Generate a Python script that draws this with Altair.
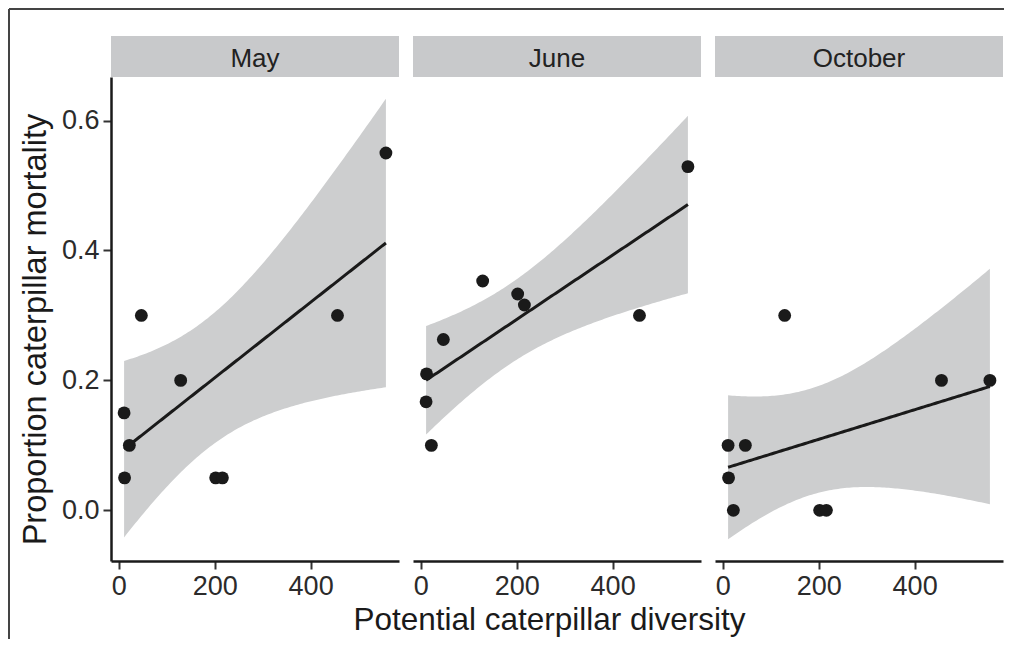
import altair as alt
import pandas as pd
import numpy as np

# ---- data ----
months = ["May", "June", "October"]
diversity = [11, 12, 22, 47, 129, 202, 216, 456, 557]
mortality_may = [0.15, 0.05, 0.10, 0.30, 0.20, 0.05, 0.05, 0.30, 0.55]
mortality_june = [0.167, 0.21, 0.10, 0.263, 0.353, 0.333, 0.316, 0.30, 0.529]
mortality_october = [0.10, 0.05, 0.00, 0.10, 0.30, 0.00, 0.00, 0.20, 0.20]
x_ticks = [0, 200, 400]
y_ticks = [0.0, 0.2, 0.4, 0.6]

FONT = "Liberation Sans"
W, H = 288, 484
T975_DF7 = 2.364624  # Student t quantile used by a 95% linear-model band


def lm_band(xs, ys):
    """Linear fit with 95% confidence band (as ggplot's geom_smooth(method='lm'))."""
    x = np.asarray(xs, float)
    y = np.asarray(ys, float)
    n = len(x)
    mx, my = x.mean(), y.mean()
    sxx = ((x - mx) ** 2).sum()
    b = ((x - mx) * (y - my)).sum() / sxx
    a = my - b * mx
    s = np.sqrt(((y - (a + b * x)) ** 2).sum() / (n - 2))
    g = np.linspace(x.min(), x.max(), 120)
    fit = a + b * g
    se = s * np.sqrt(1.0 / n + (g - mx) ** 2 / sxx)
    return pd.DataFrame({"x": g, "fit": fit, "lo": fit - T975_DF7 * se, "hi": fit + T975_DF7 * se})


xscale = alt.Scale(domain=[-16.3, 584.3], nice=False, zero=False)
yscale = alt.Scale(domain=[-0.078, 0.667], nice=False, zero=False)


def panel(i, month, ys):
    pts = pd.DataFrame({"x": diversity, "y": ys})
    band = lm_band(diversity, ys)
    if i == 1:
        xax = alt.Axis(values=x_ticks, title="Potential caterpillar diversity", titleX=136,
                       titleFontSize=31.5, titlePadding=5)
    else:
        xax = alt.Axis(values=x_ticks, title=None)
    if i == 0:
        yax = alt.Axis(values=y_ticks, format=".1f", title="Proportion caterpillar mortality",
                       titlePadding=9, titleY=252, titleFontSize=32.5)
        ych = dict(scale=yscale, axis=yax)
    else:
        ych = dict(scale=yscale, axis=None)

    strip = alt.Chart(pd.DataFrame({"m": [month]})).mark_rect(color="#c8c9cb").encode(
        x=alt.value(0), x2=alt.value(W), y=alt.value(-41), y2=alt.value(0)
    )
    label = alt.Chart(pd.DataFrame({"m": [month]})).mark_text(
        font=FONT, fontSize=26, color="#222222", baseline="alphabetic", align="center"
    ).encode(x=alt.value(W / 2), y=alt.value(-10), text="m:N")
    area = alt.Chart(band).mark_area(color="#cdcecf", opacity=1).encode(
        x=alt.X("x:Q", scale=xscale, axis=xax),
        y=alt.Y("lo:Q", **ych),
        y2="hi:Q",
    )
    line = alt.Chart(band).mark_line(color="#1a1a1a", strokeWidth=3).encode(
        x=alt.X("x:Q", scale=xscale), y=alt.Y("fit:Q", scale=yscale)
    )
    points = alt.Chart(pts).mark_circle(size=165, color="#1a1a1a", opacity=1).encode(
        x=alt.X("x:Q", scale=xscale), y=alt.Y("y:Q", scale=yscale)
    )
    layers = [strip, area, line, points, label]
    if i == 0:
        one = pd.DataFrame({"a": [0]})
        left_rule = alt.Chart(one).mark_rule(color="#444444", strokeWidth=2).encode(
            x=alt.value(-102), y=alt.value(-68), y2=alt.value(562)
        )
        top_rule = alt.Chart(one).mark_rule(color="#444444", strokeWidth=2).encode(
            x=alt.value(-102), x2=alt.value(893), y=alt.value(-68)
        )
        layers = [left_rule, top_rule] + layers
    return alt.layer(*layers).properties(width=W, height=H)


series = [mortality_may, mortality_june, mortality_october]
chart = alt.hconcat(
    *[panel(i, m, s) for i, (m, s) in enumerate(zip(months, series))],
    spacing=14,
    bounds="flush",
).properties(padding=0).configure_view(strokeWidth=0).configure_axis(
    grid=False,
    domainColor="#1a1a1a",
    domainWidth=2.5,
    tickColor="#333333",
    tickWidth=2,
    tickSize=8,
    labelFont=FONT,
    labelFontSize=27,
    labelColor="#2b2b2b",
    labelPadding=4,
    titleFont=FONT,
    titleFontSize=31,
    titleFontWeight="normal",
    titleColor="#1a1a1a",
    titlePadding=1,
)

chart.save("out.html", embed_options={"renderer": "svg", "actions": False})
